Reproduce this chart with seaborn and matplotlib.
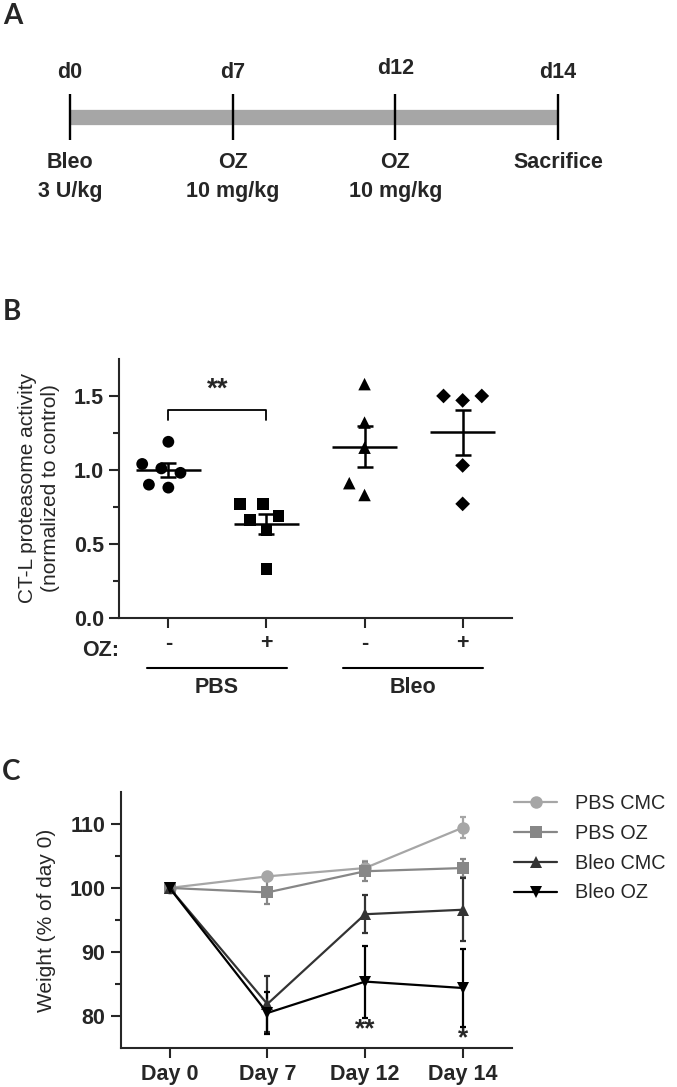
import numpy as np
import pandas as pd
import matplotlib
matplotlib.use("Agg")
import matplotlib.pyplot as plt
import matplotlib.transforms as mtransforms
import seaborn as sns

# ---- Panel A: treatment timeline
timeline_days = ["d0", "d7", "d12", "d14"]
timeline_events = ["Bleo", "OZ", "OZ", "Sacrifice"]
timeline_doses = ["3 U/kg", "10 mg/kg", "10 mg/kg", ""]

# ---- Panel B: CT-L proteasome activity (normalized to control)
b_groups = ["PBS -", "PBS +", "Bleo -", "Bleo +"]
b_oz_labels = ["-", "+", "-", "+"]
b_treatments = ["PBS", "Bleo"]
pbs_cmc_activity = [1.19, 1.04, 0.98, 1.01, 0.88, 0.90]
pbs_oz_activity = [0.66, 0.77, 0.77, 0.69, 0.59, 0.33]
bleo_cmc_activity = [1.58, 1.32, 1.15, 0.91, 0.83]
bleo_oz_activity = [1.50, 1.47, 1.50, 1.03, 0.77]
b_markers = ["o", "s", "^", "D"]
b_sizes = [8.5, 8.5, 9, 7.5]

# ---- Panel C: weight (% of day 0)
c_days = ["Day 0", "Day 7", "Day 12", "Day 14"]
c_series = ["PBS CMC", "PBS OZ", "Bleo CMC", "Bleo OZ"]
pbs_cmc_weight = [100, 101.8, 103.1, 109.4]
pbs_cmc_sem = [0, 0.5, 1.1, 1.6]
pbs_oz_weight = [100, 99.3, 102.6, 103.1]
pbs_oz_sem = [0, 1.8, 1.5, 1.4]
bleo_cmc_weight = [100, 81.9, 95.9, 96.6]
bleo_cmc_sem = [0, 4.3, 3.0, 4.9]
bleo_oz_weight = [100, 80.5, 85.4, 84.4]
bleo_oz_sem = [0, 3.3, 5.6, 6.1]
c_colors = ["#a6a6a6", "#878787", "#333333", "#000000"]
c_markers = ["o", "s", "^", "v"]
c_stars = ["", "", "**", "*"]

sns.set_style("ticks")
plt.rcParams["font.family"] = ["Liberation Sans", "DejaVu Sans"]
plt.rcParams["axes.linewidth"] = 1.5

fig = plt.figure(figsize=(6.77, 10.87), dpi=100)
W, H = 677, 1087


def px_axes(left, top, right, bottom):
    return fig.add_axes([left / W, 1 - bottom / H, (right - left) / W, (bottom - top) / H])


def panel_label(x, y, s):
    fig.text(x / W, 1 - y / H, s, fontsize=20, fontweight="bold", family=["Lato", "DejaVu Sans"],
             ha="center", va="center")


# ---------------- Panel A
ax_a = px_axes(0, 0, W, 230)
ax_a.set_xlim(-70 / 162.7, (W - 70) / 162.7)
ax_a.set_ylim(230, 0)
ax_a.axis("off")
pos = np.arange(len(timeline_days))
ax_a.hlines(116.5, pos[0], pos[-1], color="#a6a6a6", lw=11)
ax_a.vlines(pos, 94, 140, color="black", lw=1.7)
for i in pos:
    ax_a.text(i, 69 if timeline_days[i] == "d12" else 72, timeline_days[i], ha="center", va="center",
              fontsize=15.5, fontweight="bold")
    ax_a.text(i, 163, timeline_events[i], ha="center", va="center", fontsize=15.5, fontweight="bold")
    if timeline_doses[i]:
        ax_a.text(i, 192, timeline_doses[i], ha="center", va="center", fontsize=15.5,
                  fontweight="bold")
panel_label(13, 16, "A")

# ---------------- Panel B
ax_b = px_axes(119.3, 359, 511.7, 617.7)
activity = [pbs_cmc_activity, pbs_oz_activity, bleo_cmc_activity, bleo_oz_activity]
# a wide invisible edge gives the looser GraphPad-style spacing between points
for g, vals, m, s in zip(b_groups, activity, b_markers, b_sizes):
    sns.swarmplot(x=[g] * len(vals), y=vals, order=b_groups, marker=m, size=s,
                  color="black", linewidth=13.5 - s, edgecolor="none", ax=ax_b, zorder=2)
for i, vals in enumerate(activity):
    v = np.array(vals)
    mean = v.mean()
    sem = v.std(ddof=1) / np.sqrt(len(v))
    ax_b.hlines(mean, i - 0.33, i + 0.33, color="black", lw=1.8, zorder=4)
    ax_b.errorbar(i, mean, yerr=sem, color="black", lw=1.8, capsize=6, capthick=1.8, zorder=4)

ax_b.set_xlim(-0.5, 3.5)
ax_b.set_ylim(0, 1.75)
ax_b.set_yticks([0, 0.5, 1.0, 1.5])
ax_b.set_yticks([0.25, 0.75, 1.25], minor=True)
ax_b.set_yticklabels(["0.0", "0.5", "1.0", "1.5"])
ax_b.set_xticks(range(len(b_groups)))
ax_b.set_xticklabels(b_oz_labels)
ax_b.set_xlabel("")
ax_b.set_ylabel("CT-L proteasome activity\n(normalized to control)", fontsize=15, linespacing=1.3,
                labelpad=10)
ax_b.tick_params(axis="both", which="major", length=7.5, width=1.5, labelsize=15.5)
ax_b.tick_params(axis="y", which="minor", length=4, width=1.5)
for lab in ax_b.get_xticklabels() + ax_b.get_yticklabels():
    lab.set_fontweight("bold")
sns.despine(ax=ax_b)

# significance bracket
ax_b.plot([0, 0, 1, 1], [1.34, 1.407, 1.407, 1.34], color="black", lw=1.3)
ax_b.text(0.5, 1.54, "**", ha="center", va="center", fontsize=20, fontweight="bold")

# OZ row and group underlines
blend = mtransforms.blended_transform_factory(ax_b.transData, ax_b.transAxes)
ax_b.text(-0.5, -0.125, "OZ:", transform=blend, ha="right", va="center", fontsize=15.5,
          fontweight="bold")
for k, name in enumerate(b_treatments):
    x0, x1 = 2 * k - 0.22, 2 * k + 1.21
    ax_b.plot([x0, x1], [-0.194, -0.194], transform=blend, color="black", lw=1.5, clip_on=False)
    ax_b.text((x0 + x1) / 2, -0.268, name, transform=blend, ha="center", va="center",
              fontsize=15.5, fontweight="bold")
panel_label(12, 312, "B")

# ---------------- Panel C
ax_c = px_axes(120.7, 791.7, 511.7, 1048.3)
weights = [pbs_cmc_weight, pbs_oz_weight, bleo_cmc_weight, bleo_oz_weight]
sems = [pbs_cmc_sem, pbs_oz_sem, bleo_cmc_sem, bleo_oz_sem]
x_idx = np.arange(len(c_days))
df_c = pd.DataFrame({
    "day": np.tile(x_idx, len(c_series)),
    "weight": np.concatenate(weights),
    "group": np.repeat(c_series, len(c_days)),
})
sns.lineplot(data=df_c, x="day", y="weight", hue="group", style="group",
             hue_order=c_series, style_order=c_series, palette=c_colors,
             markers=c_markers, dashes=False, markersize=9, markeredgewidth=0,
             lw=1.6, ax=ax_c, zorder=3)
for w, e, col in zip(weights, sems, c_colors):
    ax_c.errorbar(x_idx[1:], w[1:], yerr=e[1:], fmt="none", ecolor=col, elinewidth=1.6,
                  capsize=2.5, capthick=1.6, zorder=2)
for i, s in enumerate(c_stars):
    if s:
        ax_c.text(i, 77.9 if s == "**" else 76.6, s, ha="center", va="center",
                  fontsize=19, fontweight="bold")

ax_c.set_xlim(-0.5, 3.5)
ax_c.set_ylim(75, 115)
ax_c.set_yticks([80, 90, 100, 110])
ax_c.set_yticks([85, 95, 105], minor=True)
ax_c.set_xticks(x_idx)
ax_c.set_xticklabels(c_days)
ax_c.set_xlabel("")
ax_c.set_ylabel("Weight (% of day 0)", fontsize=15, labelpad=10)
ax_c.tick_params(axis="both", which="major", length=7.5, width=1.5, labelsize=15.5)
ax_c.tick_params(axis="y", which="minor", length=4, width=1.5)
for lab in ax_c.get_xticklabels() + ax_c.get_yticklabels():
    lab.set_fontweight("bold")
sns.despine(ax=ax_c)
leg = ax_c.legend(loc="upper left", bbox_to_anchor=(1.0, 1.0), frameon=False, fontsize=14.3,
                  handlelength=2.2, handletextpad=0.9, labelspacing=0.55, borderaxespad=0,
                  borderpad=0.1)
panel_label(11, 772, "C")

fig.savefig("out.png", dpi=100)
